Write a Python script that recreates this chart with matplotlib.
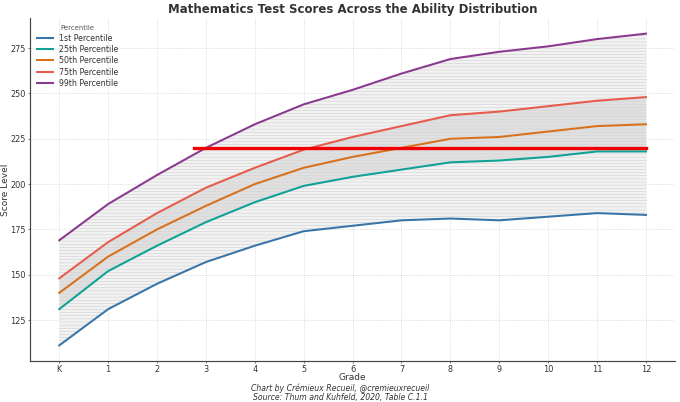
import matplotlib
matplotlib.use('Agg')
import matplotlib.pyplot as plt

# Data
grades = ['K', '1', '2', '3', '4', '5', '6', '7', '8', '9', '10', '11', '12']
p1 = [111, 131, 145, 157, 166, 174, 177, 180, 181, 180, 182, 184, 183]
p25 = [131, 152, 166, 179, 190, 199, 204, 208, 212, 213, 215, 218, 218]
p50 = [140, 160, 175, 188, 200, 209, 215, 220, 225, 226, 229, 232, 233]
p75 = [148, 168, 184, 198, 209, 219, 226, 232, 238, 240, 243, 246, 248]
p99 = [169, 189, 205, 220, 233, 244, 252, 261, 269, 273, 276, 280, 283]
ref_level = 220
ref_start = 2.75

x = range(len(grades))

plt.rcParams['hatch.linewidth'] = 0.6
plt.rcParams['hatch.color'] = '#c4c4c4'

fig = plt.figure(figsize=(12, 7.094), dpi=56.67)
ax = fig.add_axes([0.044, 0.102, 0.949, 0.853])

# Shaded bands
ax.fill_between(x, p1, p99, facecolor='#f2f2f2', hatch='---', edgecolor='#c8c8c8', linewidth=0)
ax.fill_between(x, p25, p75, facecolor='#d4d4d4', alpha=0.6, linewidth=0)

ax.plot(x, p1, color='#3a75a8', linewidth=2.6, label='1st Percentile')
ax.plot(x, p25, color='#0fa195', linewidth=2.6, label='25th Percentile')
ax.plot(x, p50, color='#d8711b', linewidth=2.6, label='50th Percentile')
ax.plot(x, p75, color='#e65b4c', linewidth=2.6, label='75th Percentile')
ax.plot(x, p99, color='#8a3a8e', linewidth=2.6, label='99th Percentile')

ax.plot([ref_start, len(grades) - 1], [ref_level, ref_level], color='#f00000', linewidth=4.2)

ax.set_xticks(list(x))
ax.set_xticklabels(grades)
ax.set_yticks([125, 150, 175, 200, 225, 250, 275])
ax.tick_params(labelsize=10.3, colors='#333333', length=3, pad=2)
ax.grid(True, linestyle=':', color='#cccccc', linewidth=1)
ax.set_axisbelow(True)
for s in ['top', 'right']:
    ax.spines[s].set_visible(False)
for s in ['left', 'bottom']:
    ax.spines[s].set_color('#444444')
    ax.spines[s].set_linewidth(1.5)

ax.set_title('Mathematics Test Scores Across the Ability Distribution',
             fontsize=15, fontweight='bold', color='#333333', pad=6)
ax.set_xlabel('Grade', fontsize=11.5, color='#333333')
ax.xaxis.set_label_coords(0.5, -0.034)
ax.set_ylabel('Score Level', fontsize=11.5, color='#333333')
ax.yaxis.set_label_coords(-0.031, 0.5)

leg = ax.legend(title='Percentile', loc='upper left', frameon=False, fontsize=10,
                title_fontsize=8.8, handlelength=2.0, labelspacing=0.3,
                bbox_to_anchor=(0.0, 1.0))
for t in leg.get_texts():
    t.set_color('#333333')
leg.get_title().set_color('#555555')

fig.text(0.5, 0.0236, 'Chart by Crémieux Recueil, @cremieuxrecueil\nSource: Thum and Kuhfeld, 2020, Table C.1.1',
         ha='center', va='center', fontsize=9.8, style='italic', color='#333333', linespacing=1.0)

fig.savefig('out.png', dpi=56.67)
